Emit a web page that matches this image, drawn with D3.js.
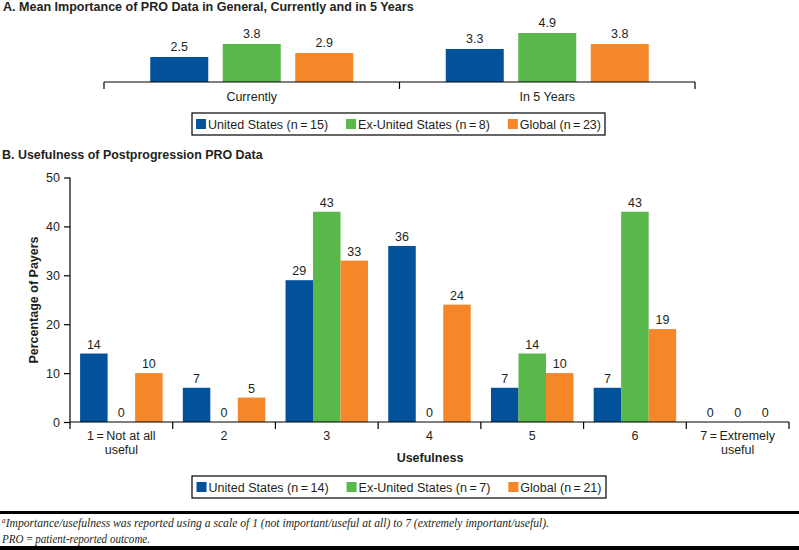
<!DOCTYPE html>
<html><head><meta charset="utf-8">
<script src="https://cdn.jsdelivr.net/npm/d3@7"></script>
<style>
body{margin:0;background:#fff}
svg{display:block}
text{font-family:"Liberation Sans",Arial,Helvetica,sans-serif;fill:#231f20}
text.serif{font-family:"Liberation Serif","DejaVu Serif",serif}
</style>
</head><body>
<svg id="c" width="799" height="550"></svg>
<script>
// ---------- DATA ----------
const seriesKeys = ["United States","Ex-United States","Global"];
const seriesColors = ["#01519b","#58b84a","#f58728"];

const timepoints = ["Currently","In 5 Years"];
const importanceUS = [2.5, 3.3];
const importanceExUS = [3.8, 4.9];
const importanceGlobal = [2.9, 3.8];
const legendLabelsA = ["United States (n\u2009=\u200915)","Ex-United States (n\u2009=\u20098)","Global (n\u2009=\u200923)"];

const usefulnessCats = ["1\u2009=\u2009Not at all\nuseful","2","3","4","5","6","7\u2009=\u2009Extremely\nuseful"];
const usefulUS = [14, 7, 29, 36, 7, 7, 0];
const usefulExUS = [0, 0, 43, 0, 14, 43, 0];
const usefulGlobal = [10, 5, 33, 24, 10, 19, 0];
const legendLabelsB = ["United States (n\u2009=\u200914)","Ex-United States (n\u2009=\u20097)","Global (n\u2009=\u200921)"];
const yTicksB = [0, 10, 20, 30, 40, 50];

const titleA = "A. Mean Importance of PRO Data in General, Currently and in 5 Years";
const titleB = "B. Usefulness of Postprogression PRO Data";
const yLabelB = "Percentage of Payers";
const xLabelB = "Usefulness";
const footnote1 = "Importance/usefulness was reported using a scale of 1 (not important/useful at all) to 7 (extremely important/useful).";
const footnote2 = "PRO\u2009=\u2009patient-reported outcome.";

// ---------- DRAW ----------
const svg = d3.select("#c");
const W = 799;
const color = d3.scaleOrdinal().domain(seriesKeys).range(seriesColors);

function fitText(sel, target, base){
  const w = sel.node().getComputedTextLength();
  sel.attr("font-size", base * target / w);
}

// Title A
svg.append("text").attr("x",3).attr("y",11).attr("font-weight","bold")
  .attr("font-size",11).text(titleA).call(fitText, 411, 11);

// Panel A
const dataA = timepoints.map((t,i)=>({cat:t, vals:[importanceUS[i],importanceExUS[i],importanceGlobal[i]]}));
const xA = d3.scaleBand().domain(timepoints).range([104,695]);
const x1A = d3.scaleBand().domain(seriesKeys).range([0,203]).paddingInner(0.2);
const yA = d3.scaleLinear().domain([0,7]).range([82,12]);
const offA = (xA.bandwidth()-203)/2;

const gA = svg.append("g");
dataA.forEach(d=>{
  const g = gA.append("g").attr("transform",`translate(${xA(d.cat)+offA},0)`);
  d.vals.forEach((v,j)=>{
    const k = seriesKeys[j];
    g.append("rect").attr("x",x1A(k)).attr("y",yA(v)).attr("width",x1A.bandwidth())
      .attr("height",yA(0)-yA(v)).attr("fill",color(k));
    g.append("text").attr("x",x1A(k)+x1A.bandwidth()/2).attr("y",yA(v)-6)
      .attr("text-anchor","middle").attr("font-size",12.5).text(v.toFixed(1));
  });
});
// axis A
const axA = svg.append("g").attr("transform",`translate(0,${yA(0)})`)
  .call(d3.axisBottom(xA).tickSize(0).tickPadding(10));
axA.select(".domain").attr("stroke","#000").attr("stroke-width",1.2).attr("d",`M${xA.range()[0]},0H${xA.range()[1]}`);
axA.selectAll(".tick text").attr("font-size",12.5).attr("fill","#231f20").attr("dy","0.71em");
const bA = [xA.range()[0], ...timepoints.map(t=>xA(t)+xA.bandwidth())];
axA.selectAll("line.b").data(bA).enter().append("line").attr("class","b")
  .attr("x1",d=>d).attr("x2",d=>d).attr("y1",0).attr("y2",7).attr("stroke","#000").attr("stroke-width",1.2);

// Legend helper
function legend(labels, box){
  const g = svg.append("g");
  g.append("rect").attr("x",box.x).attr("y",box.y).attr("width",box.w).attr("height",box.h)
    .attr("fill","none").attr("stroke","#000").attr("stroke-width",1.2);
  const items = g.selectAll("g.it").data(labels).enter().append("g").attr("class","it");
  items.append("rect").attr("width",10).attr("height",10).attr("y",box.y+box.h/2-5)
    .attr("fill",(d,i)=>seriesColors[i]);
  items.append("text").attr("x",12).attr("y",box.y+box.h/2+4.5).attr("font-size",12.5).text(d=>d);
  const widths = items.nodes().map(n=>10+2+d3.select(n).select("text").node().getComputedTextLength());
  const gap = 18;
  const total = d3.sum(widths)+gap*(labels.length-1);
  let x = box.x + (box.w-total)/2;
  items.each(function(d,i){ d3.select(this).attr("transform",`translate(${x},0)`); x += widths[i]+gap; });
}
legend(legendLabelsA, {x:192,y:113,w:413,h:22});

// Title B
svg.append("text").attr("x",2).attr("y",159).attr("font-weight","bold")
  .attr("font-size",11).text(titleB).call(fitText, 261, 11);

// Panel B
const xB = d3.scaleBand().domain(usefulnessCats).range([70,789]);
const barW = 27.5;
const x1B = d3.scaleBand().domain(seriesKeys).range([0,barW*3]);
const offB = (xB.bandwidth()-barW*3)/2;
const yB = d3.scaleLinear().domain([0,50]).range([422,177.5]);
const dataB = usefulnessCats.map((c,i)=>({cat:c, vals:[usefulUS[i],usefulExUS[i],usefulGlobal[i]]}));

const gB = svg.append("g");
dataB.forEach(d=>{
  const g = gB.append("g").attr("transform",`translate(${xB(d.cat)+offB},0)`);
  d.vals.forEach((v,j)=>{
    const k = seriesKeys[j];
    g.append("rect").attr("x",x1B(k)).attr("y",yB(v)).attr("width",x1B.bandwidth())
      .attr("height",yB(0)-yB(v)).attr("fill",color(k));
    g.append("text").attr("x",x1B(k)+x1B.bandwidth()/2).attr("y",yB(v)-5)
      .attr("text-anchor","middle").attr("font-size",12.5).text(v);
  });
});

// y axis B
const ayB = svg.append("g").attr("transform","translate(70,0)")
  .call(d3.axisLeft(yB).tickValues(yTicksB).tickSize(6).tickPadding(4));
ayB.select(".domain").attr("stroke","#000").attr("stroke-width",1.2).attr("d",`M0,${yB(50)}V${yB(0)}`);
ayB.selectAll(".tick line").attr("stroke","#000").attr("stroke-width",1.2);
ayB.selectAll(".tick text").attr("font-size",12.5).attr("fill","#231f20");

// x axis B
const axB = svg.append("g").attr("transform",`translate(0,${yB(0)})`)
  .call(d3.axisBottom(xB).tickSize(0).tickPadding(0).tickFormat(""));
axB.select(".domain").attr("stroke","#000").attr("stroke-width",1.2).attr("d",`M${xB.range()[0]},0H${xB.range()[1]}`);
const bB = [xB.range()[0], ...usefulnessCats.map(c=>xB(c)+xB.bandwidth())];
axB.selectAll("line.b").data(bB).enter().append("line").attr("class","b")
  .attr("x1",d=>d).attr("x2",d=>d).attr("y1",0).attr("y2",7).attr("stroke","#000").attr("stroke-width",1.2);
axB.selectAll(".tick").each(function(c){
  const t = d3.select(this).select("text").text(null).attr("font-size",12.5).attr("fill","#231f20")
    .attr("y",0).attr("dy",null);
  c.split("\n").forEach((line,i)=>{
    t.append("tspan").attr("x",0).attr("y",18+i*13.5).text(line);
  });
});

// axis titles B
svg.append("text").attr("transform","translate(38,300) rotate(-90)").attr("text-anchor","middle")
  .attr("font-weight","bold").attr("font-size",12.5).text(yLabelB);
svg.append("text").attr("x",430).attr("y",462).attr("text-anchor","middle")
  .attr("font-weight","bold").attr("font-size",12.5).text(xLabelB);

legend(legendLabelsB, {x:192,y:476,w:414,h:22});

// footnote area
svg.append("rect").attr("x",0).attr("y",511).attr("width",W).attr("height",3).attr("fill","#000");
const f1 = svg.append("text").attr("class","serif").attr("x",2).attr("y",527).attr("font-style","italic")
  .attr("font-size",12);
f1.append("tspan").attr("font-size",7.5).attr("dy",-4).text("a");
f1.append("tspan").attr("dy",4).text(footnote1);
f1.attr("textLength",547).attr("lengthAdjust","spacingAndGlyphs");
svg.append("text").attr("class","serif").attr("x",2).attr("y",543).attr("font-style","italic")
  .attr("font-size",12).attr("textLength",148).attr("lengthAdjust","spacingAndGlyphs").text(footnote2);
svg.append("rect").attr("x",0).attr("y",546).attr("width",W).attr("height",4).attr("fill","#000");
</script>
</body></html>
